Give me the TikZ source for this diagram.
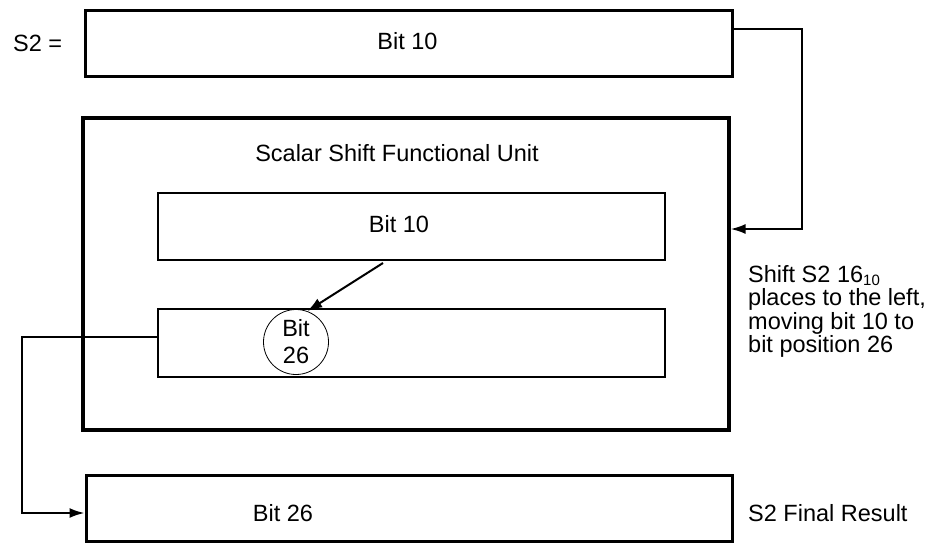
\documentclass[tikz,border=0pt]{standalone}
\usepackage{fontspec}
\setmainfont{Liberation Sans}
\usetikzlibrary{arrows.meta}
\begin{document}
\begin{tikzpicture}[x=1pt,y=-1pt,
  box/.style={draw,line width=3pt,inner sep=0pt},
  ibox/.style={draw,line width=2.4pt,inner sep=0pt},
  conn/.style={line width=2pt},
  arr/.style={conn,-{Latex[length=15pt,width=10pt]}},
  lbl/.style={font=\fontsize{23.5}{27}\selectfont,inner sep=0pt}]
\useasboundingbox (0,0) rectangle (936,544);
\node[box,minimum width=647pt,minimum height=66pt] (top) at (408.5,43) {};
\node[lbl] (toptext) at (407.5,41.5) {Bit 10};
\node[lbl,anchor=west] (s2) at (13,43.5) {S2 =};
\node[box,line width=3.2pt,minimum width=646pt,minimum height=312pt] (unit) at (406,274) {};
\node[lbl] (unittitle) at (397,153.5) {Scalar Shift Functional Unit};
\node[ibox,minimum width=507pt,minimum height=67pt] (in1) at (411.5,226.5) {};
\node[lbl] (in1text) at (399,224) {Bit 10};
\node[ibox,minimum width=507pt,minimum height=68pt] (in2) at (411.5,343) {};
\node[draw,circle,line width=0.8pt,minimum size=65pt,inner sep=0pt] (circ) at (296,342) {};
\node[lbl,align=center] (circtext) at (296,342) {Bit\\26};
\node[box,minimum width=646pt,minimum height=66pt] (bot) at (409,508) {};
\node[lbl] (bottext) at (283,513) {Bit 26};
\node[lbl,anchor=west] (final) at (748,513) {S2 Final Result};
\node[lbl,anchor=base west,align=left,font=\fontsize{23.5}{23.5}\selectfont] (note) at (748,352.5)
  {Shift S2 16\raisebox{-3pt}{\fontsize{15}{15}\selectfont 10}\\places to the left,\\moving bit 10 to\\bit position 26};
\coordinate (a1) at (802,29);
\coordinate (a2) at (802,229);
\draw[arr] (top.east |- a1) -- (a1) -- (a2) -- (unit.east |- a2);
\coordinate (b0) at (383,263);
\draw[arr] (b0) -- (circ.70);
\coordinate (c1) at (22,337);
\coordinate (c2) at (22,513);
\draw[arr] (in2.west |- c1) -- (c1) -- (c2) -- (bot.west |- c2);
\end{tikzpicture}
\end{document}
